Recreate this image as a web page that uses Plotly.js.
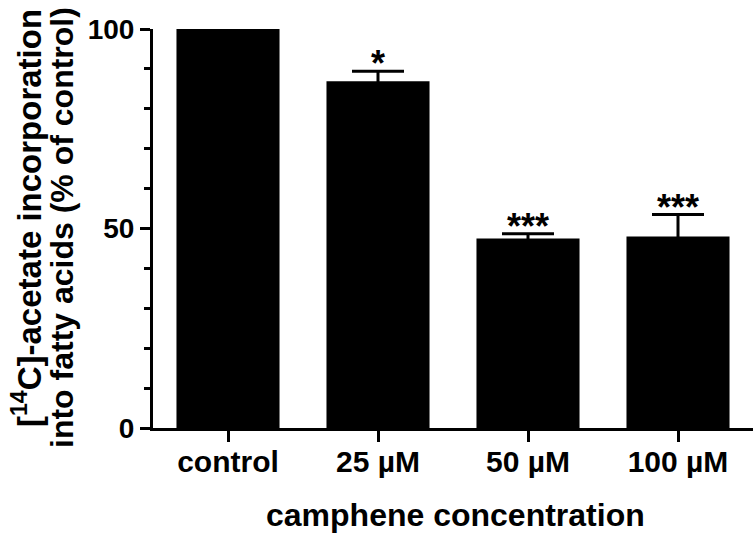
<!DOCTYPE html>
<html>
<head>
<meta charset="utf-8">
<script src="https://cdn.plot.ly/plotly-3.0.1.min.js"></script>
<style>html,body{margin:0;padding:0;background:#fff;}#chart{width:755px;height:541px;}</style>
</head>
<body>
<div id="chart"></div>
<script>
const categories = ['control', '25 µM', '50 µM', '100 µM'];
const values = [100, 86.9, 47.5, 48.0];
const errors = [0, 2.5, 1.2, 5.5];
const stars = ['', '*', '***', '***'];
const yTitleLine1 = '[<sup>14</sup>C]-acetate incorporation';
const yTitleLine2 = 'into fatty acids (% of control)';
const xTitle = 'camphene concentration';

const W = 755, H = 541;
const M = {l: 153, r: 2, t: 29, b: 113};
const PW = W - M.l - M.r, PH = H - M.t - M.b;
const FONT = 'Liberation Sans, Arial, sans-serif';

const trace = {
  type: 'bar',
  x: categories,
  y: values,
  marker: {color: '#000000', line: {color: '#000000', width: 0}},
  error_y: {type: 'data', array: errors, visible: true, color: '#000000', thickness: 3, width: 26},
  hoverinfo: 'none'
};

const annotations = [];
categories.forEach((c, i) => {
  if (stars[i]) {
    annotations.push({
      x: c, y: values[i] + errors[i], xref: 'x', yref: 'y',
      text: '<b>' + stars[i] + '</b>', showarrow: false,
      yanchor: 'bottom', yshift: -15,
      font: {family: FONT, size: 36, color: '#000'}
    });
  }
});
function py(p) { return 1 - (p - M.t) / PH; }
annotations.push({
  x: (27 - M.l) / PW, y: py(218), xref: 'paper', yref: 'paper',
  text: '<b>' + yTitleLine1 + '</b>', textangle: -90, showarrow: false,
  xanchor: 'center', yanchor: 'middle', font: {family: FONT, size: 33, color: '#000'}
});
annotations.push({
  x: (62 - M.l) / PW, y: py(228), xref: 'paper', yref: 'paper',
  text: '<b>' + yTitleLine2 + '</b>', textangle: -90, showarrow: false,
  xanchor: 'center', yanchor: 'middle', font: {family: FONT, size: 32, color: '#000'}
});
annotations.push({
  x: (455 - M.l) / PW, y: py(515), xref: 'paper', yref: 'paper',
  text: '<b>' + xTitle + '</b>', showarrow: false,
  xanchor: 'center', yanchor: 'middle', font: {family: FONT, size: 32, color: '#000'}
});

const layout = {
  width: W, height: H,
  margin: M,
  paper_bgcolor: '#fff', plot_bgcolor: '#fff',
  showlegend: false,
  bargap: 0.313,
  font: {family: FONT, color: '#000'},
  xaxis: {
    type: 'category', range: [-0.5, 3.5],
    showline: true, linewidth: 3, linecolor: '#000',
    ticks: 'outside', ticklen: 11, tickwidth: 3, tickcolor: '#000',
    ticklabelstandoff: -6,
    showgrid: false, zeroline: false,
    tickfont: {family: FONT, size: 30, color: '#000', weight: 'bold'}
  },
  yaxis: {
    range: [0, 100], dtick: 50, tick0: 0,
    showline: true, linewidth: 3, linecolor: '#000',
    ticks: 'outside', ticklen: 10, tickwidth: 3, tickcolor: '#000',
    minor: {dtick: 10, ticks: 'outside', ticklen: 6, tickwidth: 3, tickcolor: '#000', showgrid: false},
    showgrid: false, zeroline: false,
    tickfont: {family: FONT, size: 28, color: '#000', weight: 'bold'}
  },
  annotations: annotations
};

Plotly.newPlot('chart', [trace], layout, {displayModeBar: false, staticPlot: true});
</script>
</body>
</html>
